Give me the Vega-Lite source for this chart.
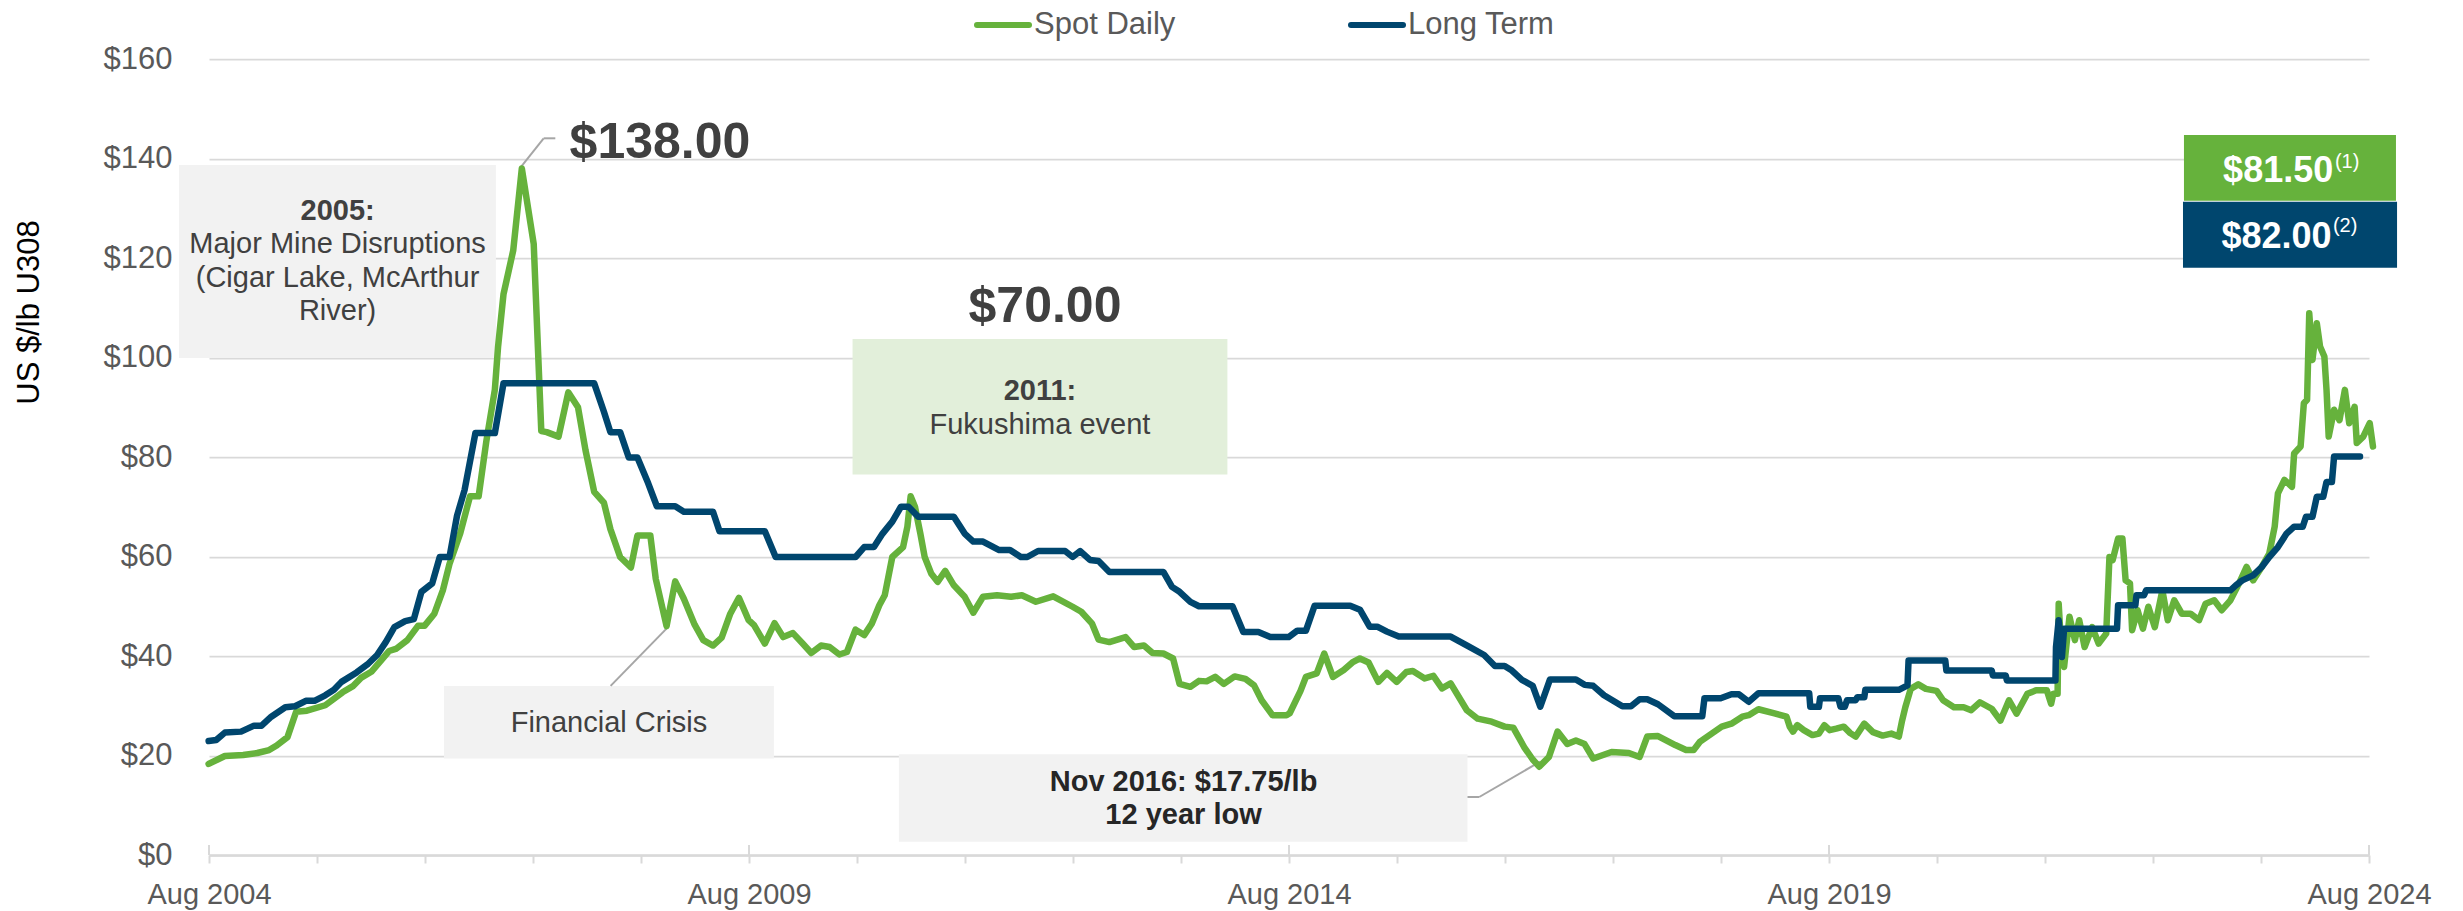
{
  "$schema": "https://vega.github.io/schema/vega-lite/v6.json",
  "width": 2160,
  "height": 796,
  "autosize": "none",
  "padding": {"left": 209, "top": 59, "right": 94, "bottom": 56},
  "background": "white",
  "config": {"font": "Liberation Sans", "view": {"stroke": null}},
  "datasets": {
    "spot": [
      {"yr":2004.58,"usd":18.3},{"yr":2004.73,"usd":19.9},{"yr":2004.90,"usd":20.1},{"yr":2005.03,"usd":20.5},{"yr":2005.14,"usd":21.1},{"yr":2005.21,"usd":22.0},{"yr":2005.31,"usd":23.7},{"yr":2005.39,"usd":28.8},{"yr":2005.49,"usd":29.0},{"yr":2005.66,"usd":30.1},{"yr":2005.82,"usd":32.7},{"yr":2005.92,"usd":34.0},{"yr":2005.99,"usd":35.6},{"yr":2006.09,"usd":36.9},{"yr":2006.25,"usd":41.0},{"yr":2006.32,"usd":41.5},{"yr":2006.42,"usd":43.2},{"yr":2006.52,"usd":46.1},{"yr":2006.58,"usd":46.1},{"yr":2006.67,"usd":48.5},{"yr":2006.75,"usd":53.3},{"yr":2006.81,"usd":58.5},{"yr":2006.91,"usd":64.7},{"yr":2007.00,"usd":72.1},{"yr":2007.08,"usd":72.1},{"yr":2007.15,"usd":83.0},{"yr":2007.23,"usd":93.5},{"yr":2007.26,"usd":102.2},{"yr":2007.31,"usd":112.7},{"yr":2007.40,"usd":121.5},{"yr":2007.48,"usd":138.0},{"yr":2007.59,"usd":122.8},{"yr":2007.66,"usd":85.2},{"yr":2007.71,"usd":85.0},{"yr":2007.82,"usd":84.1},{"yr":2007.91,"usd":93.0},{"yr":2008.00,"usd":90.0},{"yr":2008.07,"usd":81.3},{"yr":2008.15,"usd":73.0},{"yr":2008.24,"usd":70.8},{"yr":2008.30,"usd":65.5},{"yr":2008.39,"usd":59.9},{"yr":2008.49,"usd":57.8},{"yr":2008.55,"usd":64.2},{"yr":2008.67,"usd":64.2},{"yr":2008.72,"usd":55.5},{"yr":2008.82,"usd":46.0},{"yr":2008.90,"usd":55.0},{"yr":2008.98,"usd":51.5},{"yr":2009.08,"usd":46.3},{"yr":2009.16,"usd":43.2},{"yr":2009.25,"usd":42.1},{"yr":2009.33,"usd":43.7},{"yr":2009.41,"usd":48.5},{"yr":2009.49,"usd":51.7},
      {"yr":2009.58,"usd":47.2},{"yr":2009.63,"usd":46.2},{"yr":2009.73,"usd":42.5},{"yr":2009.82,"usd":46.6},{"yr":2009.90,"usd":43.8},{"yr":2009.99,"usd":44.6},{"yr":2010.08,"usd":42.5},{"yr":2010.16,"usd":40.6},{"yr":2010.25,"usd":42.1},{"yr":2010.33,"usd":41.8},{"yr":2010.42,"usd":40.3},{"yr":2010.49,"usd":40.8},{"yr":2010.57,"usd":45.3},{"yr":2010.65,"usd":44.2},{"yr":2010.72,"usd":46.5},{"yr":2010.79,"usd":50.2},{"yr":2010.84,"usd":52.2},{"yr":2010.91,"usd":59.9},{"yr":2011.01,"usd":61.9},{"yr":2011.05,"usd":66.0},{"yr":2011.08,"usd":72.1},{"yr":2011.12,"usd":70.0},{"yr":2011.17,"usd":64.6},{"yr":2011.21,"usd":59.9},{"yr":2011.27,"usd":56.6},{"yr":2011.33,"usd":54.9},{"yr":2011.40,"usd":57.1},{"yr":2011.48,"usd":54.2},{"yr":2011.58,"usd":51.9},{"yr":2011.66,"usd":48.7},{"yr":2011.75,"usd":51.9},{"yr":2011.88,"usd":52.2},{"yr":2012.01,"usd":51.9},{"yr":2012.11,"usd":52.2},{"yr":2012.24,"usd":50.9},{"yr":2012.40,"usd":52.0},{"yr":2012.58,"usd":49.9},{"yr":2012.66,"usd":48.9},{"yr":2012.76,"usd":46.5},{"yr":2012.82,"usd":43.3},{"yr":2012.92,"usd":42.8},{"yr":2013.07,"usd":43.8},{"yr":2013.15,"usd":41.8},{"yr":2013.24,"usd":42.1},{"yr":2013.32,"usd":40.6},{"yr":2013.42,"usd":40.5},{"yr":2013.51,"usd":39.5},{"yr":2013.57,"usd":34.4},{"yr":2013.67,"usd":33.8},{"yr":2013.75,"usd":35.0},{"yr":2013.82,"usd":34.9},{"yr":2013.90,"usd":35.8},{"yr":2013.98,"usd":34.4},{"yr":2014.08,"usd":35.9},{"yr":2014.18,"usd":35.4},{"yr":2014.26,"usd":34.1},{"yr":2014.33,"usd":31.1},{"yr":2014.43,"usd":28.1},{"yr":2014.56,"usd":28.1},
      {"yr":2014.59,"usd":28.5},{"yr":2014.69,"usd":33.0},{"yr":2014.74,"usd":35.8},{"yr":2014.84,"usd":36.5},{"yr":2014.91,"usd":40.5},{"yr":2014.99,"usd":35.8},{"yr":2015.09,"usd":37.2},{"yr":2015.17,"usd":38.7},{"yr":2015.24,"usd":39.5},{"yr":2015.32,"usd":38.7},{"yr":2015.41,"usd":34.8},{"yr":2015.49,"usd":36.6},{"yr":2015.58,"usd":34.8},{"yr":2015.67,"usd":36.8},{"yr":2015.73,"usd":37.0},{"yr":2015.84,"usd":35.5},{"yr":2015.92,"usd":36.0},{"yr":2016.00,"usd":33.5},{"yr":2016.08,"usd":34.5},{"yr":2016.23,"usd":29.1},{"yr":2016.33,"usd":27.4},{"yr":2016.46,"usd":26.8},{"yr":2016.58,"usd":25.8},{"yr":2016.66,"usd":25.6},{"yr":2016.76,"usd":21.7},{"yr":2016.84,"usd":19.2},{"yr":2016.90,"usd":17.75},{"yr":2016.99,"usd":19.7},{"yr":2017.07,"usd":24.8},{"yr":2017.16,"usd":22.3},{"yr":2017.24,"usd":23.0},{"yr":2017.32,"usd":22.3},{"yr":2017.40,"usd":19.4},{"yr":2017.57,"usd":20.7},{"yr":2017.73,"usd":20.5},{"yr":2017.83,"usd":19.7},{"yr":2017.90,"usd":23.8},{"yr":2018.00,"usd":23.9},{"yr":2018.16,"usd":22.1},{"yr":2018.26,"usd":21.1},{"yr":2018.33,"usd":21.1},{"yr":2018.39,"usd":22.8},{"yr":2018.49,"usd":24.3},{"yr":2018.59,"usd":25.8},{"yr":2018.68,"usd":26.4},{"yr":2018.78,"usd":27.8},{"yr":2018.84,"usd":28.1},{"yr":2018.93,"usd":29.3},{"yr":2019.07,"usd":28.5},{"yr":2019.19,"usd":27.8},{"yr":2019.22,"usd":25.8},{"yr":2019.25,"usd":24.8},{"yr":2019.29,"usd":26.1},{"yr":2019.35,"usd":25.1},{"yr":2019.43,"usd":24.1},{"yr":2019.49,"usd":24.4},{"yr":2019.54,"usd":26.1},{"yr":2019.59,"usd":25.1},{"yr":2019.65,"usd":25.4},{"yr":2019.72,"usd":25.8},
      {"yr":2019.78,"usd":24.5},{"yr":2019.83,"usd":23.8},{"yr":2019.91,"usd":26.4},{"yr":2019.99,"usd":24.7},{"yr":2020.08,"usd":24.0},{"yr":2020.16,"usd":24.4},{"yr":2020.23,"usd":23.8},{"yr":2020.26,"usd":27.0},{"yr":2020.29,"usd":29.7},{"yr":2020.34,"usd":33.4},{"yr":2020.41,"usd":34.3},{"yr":2020.48,"usd":33.4},{"yr":2020.58,"usd":33.0},{"yr":2020.64,"usd":31.1},{"yr":2020.74,"usd":29.7},{"yr":2020.83,"usd":29.7},{"yr":2020.90,"usd":29.1},{"yr":2020.98,"usd":30.7},{"yr":2021.09,"usd":29.4},{"yr":2021.17,"usd":27.0},{"yr":2021.25,"usd":31.1},{"yr":2021.32,"usd":28.4},{"yr":2021.42,"usd":32.4},{"yr":2021.50,"usd":33.1},{"yr":2021.60,"usd":33.1},{"yr":2021.64,"usd":30.4},{"yr":2021.66,"usd":32.4},{"yr":2021.70,"usd":32.4},{"yr":2021.71,"usd":50.5},{"yr":2021.74,"usd":39.0},{"yr":2021.76,"usd":37.8},{"yr":2021.81,"usd":47.9},{"yr":2021.86,"usd":43.2},{"yr":2021.90,"usd":47.2},{"yr":2021.95,"usd":41.8},{"yr":2022.02,"usd":45.8},{"yr":2022.08,"usd":42.5},{"yr":2022.15,"usd":44.5},{"yr":2022.18,"usd":59.9},{"yr":2022.21,"usd":59.3},{"yr":2022.26,"usd":63.6},{"yr":2022.30,"usd":63.6},{"yr":2022.33,"usd":55.2},{"yr":2022.37,"usd":54.6},{"yr":2022.39,"usd":45.2},{"yr":2022.44,"usd":49.2},{"yr":2022.49,"usd":45.5},{"yr":2022.54,"usd":49.9},{"yr":2022.60,"usd":45.8},{"yr":2022.67,"usd":53.2},{"yr":2022.72,"usd":47.2},{"yr":2022.78,"usd":51.2},{"yr":2022.85,"usd":48.5},{"yr":2022.93,"usd":48.5},{"yr":2023.01,"usd":47.2},{"yr":2023.07,"usd":50.5},{"yr":2023.15,"usd":51.2},{"yr":2023.22,"usd":49.2},{"yr":2023.30,"usd":51.2},{"yr":2023.38,"usd":54.6},{"yr":2023.45,"usd":57.9},{"yr":2023.51,"usd":55.2},{"yr":2023.59,"usd":57.9},{"yr":2023.66,"usd":60.6},{"yr":2023.71,"usd":66.0},{"yr":2023.74,"usd":72.7},{"yr":2023.80,"usd":75.4},{"yr":2023.87,"usd":74.0},{"yr":2023.89,"usd":80.7},{"yr":2023.95,"usd":82.1},{"yr":2023.98,"usd":90.8},{"yr":2024.01,"usd":91.5},{"yr":2024.03,"usd":108.9},{"yr":2024.06,"usd":99.5},{"yr":2024.10,"usd":106.9},{"yr":2024.13,"usd":102.2},{"yr":2024.17,"usd":100.2},{"yr":2024.19,"usd":93.5},{"yr":2024.21,"usd":84.1},{"yr":2024.26,"usd":89.5},{"yr":2024.31,"usd":87.4},{"yr":2024.36,"usd":93.5},{"yr":2024.40,"usd":86.8},{"yr":2024.45,"usd":90.1},{"yr":2024.47,"usd":82.8},{"yr":2024.53,"usd":84.1},{"yr":2024.59,"usd":86.8},{"yr":2024.62,"usd":82.1}
    ],
    "lt": [
      {"yr":2004.58,"usd":22.9},{"yr":2004.65,"usd":23.1},{"yr":2004.73,"usd":24.6},{"yr":2004.88,"usd":24.8},{"yr":2005.00,"usd":26.0},{"yr":2005.07,"usd":26.0},{"yr":2005.16,"usd":27.8},{"yr":2005.29,"usd":29.7},{"yr":2005.38,"usd":29.9},{"yr":2005.48,"usd":31.0},{"yr":2005.56,"usd":31.0},{"yr":2005.66,"usd":32.1},{"yr":2005.74,"usd":33.2},{"yr":2005.81,"usd":34.8},{"yr":2005.95,"usd":36.7},{"yr":2006.05,"usd":38.3},{"yr":2006.14,"usd":40.2},{"yr":2006.22,"usd":42.8},{"yr":2006.30,"usd":45.8},{"yr":2006.40,"usd":47.0},{"yr":2006.48,"usd":47.4},{"yr":2006.55,"usd":52.9},{"yr":2006.65,"usd":54.6},{"yr":2006.72,"usd":59.9},{"yr":2006.81,"usd":59.9},{"yr":2006.88,"usd":68.2},{"yr":2006.95,"usd":73.4},{"yr":2007.05,"usd":84.8},{"yr":2007.23,"usd":84.8},{"yr":2007.31,"usd":94.8},{"yr":2008.15,"usd":94.8},{"yr":2008.24,"usd":89.1},{"yr":2008.30,"usd":85.0},{"yr":2008.39,"usd":85.0},{"yr":2008.47,"usd":79.9},{"yr":2008.55,"usd":79.9},{"yr":2008.65,"usd":74.7},{"yr":2008.73,"usd":70.1},{"yr":2008.90,"usd":70.1},{"yr":2008.98,"usd":69.0},{"yr":2009.25,"usd":69.0},{"yr":2009.31,"usd":65.1},
      {"yr":2009.73,"usd":65.1},{"yr":2009.83,"usd":59.9},{"yr":2010.57,"usd":59.9},{"yr":2010.65,"usd":61.9},{"yr":2010.74,"usd":61.9},{"yr":2010.82,"usd":64.6},{"yr":2010.91,"usd":67.0},{"yr":2010.99,"usd":70.0},{"yr":2011.06,"usd":70.0},{"yr":2011.15,"usd":68.0},{"yr":2011.48,"usd":68.0},{"yr":2011.58,"usd":64.6},{"yr":2011.66,"usd":63.0},{"yr":2011.75,"usd":63.0},{"yr":2011.90,"usd":61.3},{"yr":2012.00,"usd":61.3},{"yr":2012.10,"usd":59.9},{"yr":2012.16,"usd":59.9},{"yr":2012.26,"usd":61.1},{"yr":2012.51,"usd":61.1},{"yr":2012.58,"usd":59.9},{"yr":2012.65,"usd":61.1},{"yr":2012.74,"usd":59.3},{"yr":2012.82,"usd":59.1},{"yr":2012.92,"usd":56.9},{"yr":2013.42,"usd":56.9},{"yr":2013.50,"usd":53.9},{"yr":2013.57,"usd":52.9},{"yr":2013.67,"usd":50.9},{"yr":2013.75,"usd":50.0},{"yr":2014.06,"usd":50.0},{"yr":2014.16,"usd":44.8},{"yr":2014.30,"usd":44.8},{"yr":2014.41,"usd":43.8},{"yr":2014.58,"usd":43.8},
      {"yr":2014.66,"usd":45.1},{"yr":2014.74,"usd":45.1},{"yr":2014.82,"usd":50.1},{"yr":2015.15,"usd":50.1},{"yr":2015.24,"usd":49.3},{"yr":2015.33,"usd":45.9},{"yr":2015.40,"usd":45.9},{"yr":2015.49,"usd":44.9},{"yr":2015.60,"usd":43.9},{"yr":2016.08,"usd":43.9},{"yr":2016.25,"usd":41.9},{"yr":2016.39,"usd":40.2},{"yr":2016.49,"usd":38.0},{"yr":2016.58,"usd":38.0},{"yr":2016.64,"usd":37.2},{"yr":2016.74,"usd":35.2},{"yr":2016.84,"usd":34.0},{"yr":2016.91,"usd":29.8},{"yr":2017.00,"usd":35.3},{"yr":2017.24,"usd":35.3},{"yr":2017.32,"usd":34.2},{"yr":2017.40,"usd":34.0},{"yr":2017.50,"usd":32.1},{"yr":2017.67,"usd":29.9},{"yr":2017.75,"usd":29.9},{"yr":2017.83,"usd":31.3},{"yr":2017.90,"usd":31.3},{"yr":2018.00,"usd":30.3},{"yr":2018.15,"usd":27.9},{"yr":2018.41,"usd":27.9},{"yr":2018.43,"usd":31.5},{"yr":2018.58,"usd":31.5},{"yr":2018.68,"usd":32.3},{"yr":2018.75,"usd":32.3},{"yr":2018.84,"usd":30.8},{"yr":2018.93,"usd":32.5},{"yr":2019.40,"usd":32.5},{"yr":2019.41,"usd":29.8},{"yr":2019.49,"usd":29.8},{"yr":2019.50,"usd":31.5},{"yr":2019.67,"usd":31.5},{"yr":2019.69,"usd":29.8},{"yr":2019.73,"usd":29.8},{"yr":2019.75,"usd":31.1},{"yr":2019.83,"usd":31.1},{"yr":2019.845,"usd":31.7},{"yr":2019.91,"usd":31.7},{"yr":2019.92,"usd":33.2},{"yr":2020.23,"usd":33.2},{"yr":2020.31,"usd":34.1},{"yr":2020.32,"usd":39.1},{"yr":2020.66,"usd":39.1},{"yr":2020.67,"usd":37.1},{"yr":2021.09,"usd":37.1},{"yr":2021.10,"usd":36.1},{"yr":2021.22,"usd":36.1},{"yr":2021.23,"usd":35.1},{"yr":2021.68,"usd":35.1},{"yr":2021.685,"usd":41.8},{"yr":2021.71,"usd":47.2},{"yr":2021.74,"usd":39.8},{"yr":2021.76,"usd":45.5},{"yr":2022.25,"usd":45.5},{"yr":2022.26,"usd":50.2},{"yr":2022.42,"usd":50.2},{"yr":2022.43,"usd":52.2},{"yr":2022.50,"usd":52.2},{"yr":2022.52,"usd":53.2},{"yr":2023.30,"usd":53.2},{"yr":2023.35,"usd":54.2},{"yr":2023.41,"usd":55.2},{"yr":2023.51,"usd":56.2},{"yr":2023.59,"usd":57.9},{"yr":2023.66,"usd":59.9},{"yr":2023.74,"usd":61.9},{"yr":2023.82,"usd":64.6},{"yr":2023.89,"usd":66.0},{"yr":2023.97,"usd":66.0},{"yr":2024.00,"usd":68.0},{"yr":2024.06,"usd":68.0},{"yr":2024.10,"usd":72.0},{"yr":2024.16,"usd":72.0},{"yr":2024.19,"usd":75.0},{"yr":2024.24,"usd":75.0},{"yr":2024.26,"usd":80.1},{"yr":2024.50,"usd":80.1}
    ]
  },
  "layer": [
    {
      "data": {"name": "spot"},
      "mark": {"type": "line", "strokeWidth": 6.5, "strokeJoin": "round", "strokeCap": "round", "opacity": 0},
      "encoding": {
        "x": {"field": "yr", "type": "quantitative",
          "scale": {"domain": [2004.5833, 2024.5833], "nice": false, "zero": false},
          "axis": {"title": null, "grid": false,
            "values": [2004.5833,2005.5833,2006.5833,2007.5833,2008.5833,2009.5833,2010.5833,2011.5833,2012.5833,2013.5833,2014.5833,2015.5833,2016.5833,2017.5833,2018.5833,2019.5833,2020.5833,2021.5833,2022.5833,2023.5833,2024.5833],
            "labelExpr": "((round(datum.value - 0.5833) - 2004) % 5 == 0) ? 'Aug ' + round(datum.value - 0.5833) : ''",
            "labelFlush": false, "labelOverlap": false, "labelBound": false,
            "domainColor": "#d9d9d9", "domainWidth": 2.5, "tickColor": "#d9d9d9", "tickWidth": 2, "tickSize": 8,
            "labelFontSize": 29, "labelColor": "#595959", "labelBaseline": "alphabetic", "labelPadding": 40}},
        "y": {"field": "usd", "type": "quantitative",
          "scale": {"domain": [0, 160], "nice": false, "zero": true},
          "axis": {"title": "US $/lb U308", "values": [0,20,40,60,80,100,120,140,160], "format": "$.0f",
            "grid": true, "gridColor": "#d9d9d9", "gridWidth": 1.75, "domain": false, "ticks": false,
            "labelFontSize": 31, "labelColor": "#595959", "labelPadding": 37,
            "titleFontSize": 31, "titleColor": "#000000", "titleFontWeight": "normal", "titleLimit": 600,
            "titleAngle": -90, "titleX": -171, "titleY": 253, "titleAlign": "center", "titleBaseline": "alphabetic"}},
        "color": {"datum": "Spot Daily", "type": "nominal",
          "scale": {"domain": ["Spot Daily", "Long Term"], "range": ["#66b23c", "#00466e"]},
          "legend": {"title": null, "orient": "none", "legendX": 765, "legendY": -63, "direction": "horizontal",
            "symbolType": "stroke", "symbolSize": 2704, "symbolStrokeWidth": 6, "labelFontSize": 31,
            "labelColor": "#595959", "labelOffset": 2, "columnPadding": 163, "padding": 0, "labelLimit": 400,
            "symbolOpacity": 1,
            "encode": {"symbols": {"update": {"strokeCap": {"value": "round"}, "opacity": {"value": 1}}}}}}
      }
    },
    {
      "data": {"values": [
        {"a":2004.305,"b":2007.24,"lo":99.9,"hi":138.7},
        {"a":2006.759,"b":2009.814,"lo":19.4,"hi":33.97},
        {"a":2010.971,"b":2016.236,"lo":2.67,"hi":20.24}]},
      "mark": {"type": "rect", "color": "#f2f2f2"},
      "encoding": {
        "x": {"field": "a", "type": "quantitative"},
        "x2": {"field": "b"},
        "y": {"field": "hi", "type": "quantitative"},
        "y2": {"field": "lo"}
      }
    },
    {
      "data": {"values": [{"a":2010.542,"b":2014.013,"lo":76.5,"hi":103.7}]},
      "mark": {"type": "rect", "color": "#e2efda"},
      "encoding": {
        "x": {"field": "a", "type": "quantitative"},
        "x2": {"field": "b"},
        "y": {"field": "hi", "type": "quantitative"},
        "y2": {"field": "lo"}
      }
    },
    {
      "data": {"values": [{"a":2022.870,"b":2024.833,"lo":131.5,"hi":144.7}]},
      "mark": {"type": "rect", "color": "#66b23c"},
      "encoding": {
        "x": {"field": "a", "type": "quantitative"},
        "x2": {"field": "b"},
        "y": {"field": "hi", "type": "quantitative"},
        "y2": {"field": "lo"}
      }
    },
    {
      "data": {"values": [{"a":2022.861,"b":2024.843,"lo":118.05,"hi":131.3}]},
      "mark": {"type": "rect", "color": "#00466e"},
      "encoding": {
        "x": {"field": "a", "type": "quantitative"},
        "x2": {"field": "b"},
        "y": {"field": "hi", "type": "quantitative"},
        "y2": {"field": "lo"}
      }
    },
    {
      "data": {"values": [{"yr":2004.5833},{"yr":2009.5833},{"yr":2014.5833},{"yr":2019.5833},{"yr":2024.5833}]},
      "mark": {"type": "rule", "color": "#d9d9d9", "strokeWidth": 2},
      "encoding": {
        "x": {"field": "yr", "type": "quantitative"},
        "y": {"datum": 0, "type": "quantitative"},
        "y2": {"datum": 2}
      }
    },
    {
      "data": {"values": [
        {"a":2007.474,"b":2007.682,"lo":138.35,"hi":144.06},
        {"a":2007.682,"b":2007.79,"lo":144.06,"hi":144.06},
        {"a":2008.824,"b":2008.302,"lo":45.6,"hi":34.0},
        {"a":2016.236,"b":2016.345,"lo":11.66,"hi":11.66},
        {"a":2016.345,"b":2016.907,"lo":11.66,"hi":18.75}]},
      "mark": {"type": "rule", "color": "#a6a6a6", "strokeWidth": 2},
      "encoding": {
        "x": {"field": "a", "type": "quantitative"},
        "x2": {"field": "b"},
        "y": {"field": "lo", "type": "quantitative"},
        "y2": {"field": "hi"}
      }
    },
    {
      "data": {"name": "spot"},
      "mark": {"type": "line", "strokeWidth": 6.5, "strokeJoin": "round", "strokeCap": "round"},
      "encoding": {
        "x": {"field": "yr", "type": "quantitative"},
        "y": {"field": "usd", "type": "quantitative"},
        "color": {"datum": "Spot Daily", "type": "nominal"}
      }
    },
    {
      "data": {"name": "lt"},
      "mark": {"type": "line", "strokeWidth": 6.5, "strokeJoin": "round", "strokeCap": "round"},
      "encoding": {
        "x": {"field": "yr", "type": "quantitative"},
        "y": {"field": "usd", "type": "quantitative"},
        "color": {"datum": "Long Term", "type": "nominal"}
      }
    },
    {
      "data": {"values": [
        {"yr":2005.774,"usd":121.0,"txt":"Major Mine Disruptions"},
        {"yr":2005.774,"usd":114.2,"txt":"(Cigar Lake, McArthur"},
        {"yr":2005.774,"usd":107.5,"txt":"River)"},
        {"yr":2012.277,"usd":84.56,"txt":"Fukushima event"},
        {"yr":2008.287,"usd":24.78,"txt":"Financial Crisis"}]},
      "mark": {"type": "text", "fontSize": 29, "color": "#404040", "align": "center", "baseline": "alphabetic"},
      "encoding": {
        "x": {"field": "yr", "type": "quantitative"},
        "y": {"field": "usd", "type": "quantitative"},
        "text": {"field": "txt"}
      }
    },
    {
      "data": {"values": [
        {"yr":2005.774,"usd":127.6,"txt":"2005:"},
        {"yr":2012.277,"usd":91.46,"txt":"2011:"}]},
      "mark": {"type": "text", "fontSize": 29, "fontWeight": "bold", "color": "#404040", "align": "center", "baseline": "alphabetic"},
      "encoding": {
        "x": {"field": "yr", "type": "quantitative"},
        "y": {"field": "usd", "type": "quantitative"},
        "text": {"field": "txt"}
      }
    },
    {
      "data": {"values": [
        {"yr":2013.607,"usd":12.86,"txt":"Nov 2016: $17.75/lb"},
        {"yr":2013.607,"usd":6.23,"txt":"12 year low"}]},
      "mark": {"type": "text", "fontSize": 29, "fontWeight": "bold", "color": "#262626", "align": "center", "baseline": "alphabetic"},
      "encoding": {
        "x": {"field": "yr", "type": "quantitative"},
        "y": {"field": "usd", "type": "quantitative"},
        "text": {"field": "txt"}
      }
    },
    {
      "data": {"values": [
        {"yr":2008.759,"usd":140.2,"txt":"$138.00"},
        {"yr":2012.324,"usd":107.2,"txt":"$70.00"}]},
      "mark": {"type": "text", "fontSize": 50, "fontWeight": "bold", "color": "#404040", "align": "center", "baseline": "alphabetic"},
      "encoding": {
        "x": {"field": "yr", "type": "quantitative"},
        "y": {"field": "usd", "type": "quantitative"},
        "text": {"field": "txt"}
      }
    },
    {
      "data": {"values": [
        {"yr":2024.252,"usd":135.3,"txt":"$81.50"},
        {"yr":2024.237,"usd":121.95,"txt":"$82.00"}]},
      "mark": {"type": "text", "fontSize": 36, "fontWeight": "bold", "color": "#ffffff", "align": "right", "baseline": "alphabetic"},
      "encoding": {
        "x": {"field": "yr", "type": "quantitative"},
        "y": {"field": "usd", "type": "quantitative"},
        "text": {"field": "txt"}
      }
    },
    {
      "data": {"values": [
        {"yr":2024.268,"usd":138.0,"txt":"(1)"},
        {"yr":2024.249,"usd":125.3,"txt":"(2)"}]},
      "mark": {"type": "text", "fontSize": 20, "color": "#ffffff", "align": "left", "baseline": "alphabetic"},
      "encoding": {
        "x": {"field": "yr", "type": "quantitative"},
        "y": {"field": "usd", "type": "quantitative"},
        "text": {"field": "txt"}
      }
    }
  ]
}
